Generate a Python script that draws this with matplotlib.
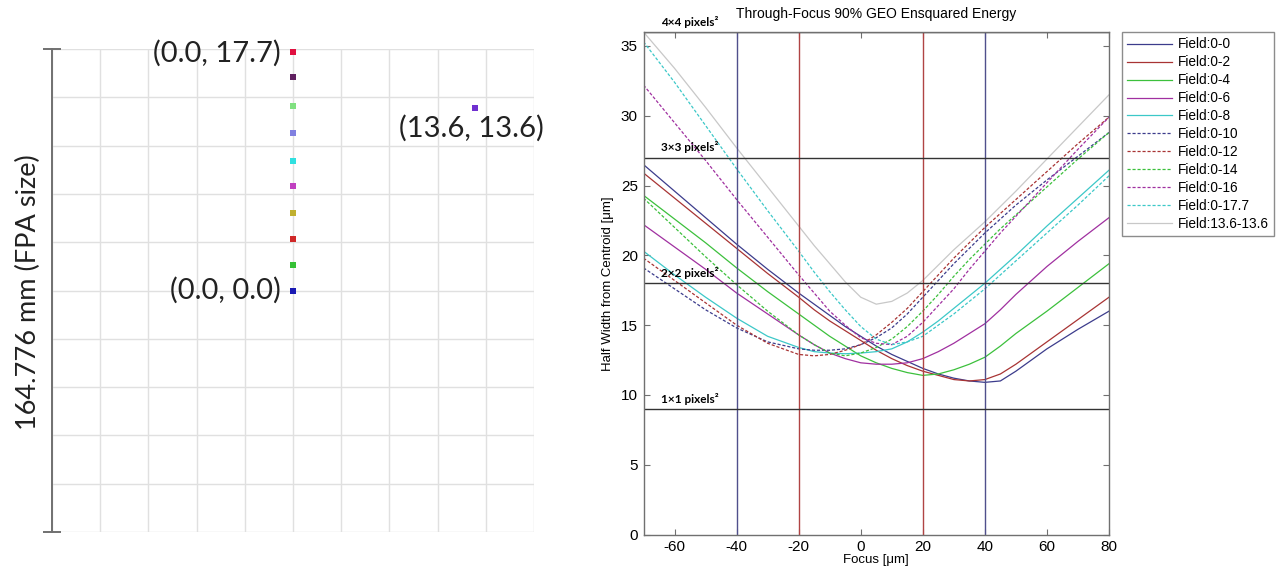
import numpy as np
import matplotlib
matplotlib.use("Agg")
import matplotlib.pyplot as plt

plt.rcParams["axes.unicode_minus"] = False

# ---- left panel: field points on the FPA (mm) ----
fpa_size = 164.776
field_labels = ["0", "2", "4", "6", "8", "10", "12", "14", "16", "17.7"]
field_y_mm = [0.0, 8.7, 17.5, 26.3, 35.5, 44.3, 53.6, 63.0, 72.8, 81.5]
field_colors = ["#1a1ab4", "#35c035", "#d02828", "#c0b030", "#c040c0",
                "#30e0e0", "#8080e0", "#80e080", "#602060", "#e01040"]
offaxis_xy_mm = (62.3, 62.3)
offaxis_color = "#7030d0"

# ---- right panel: through-focus curves ----
focus = [-70, -60, -50, -40, -30, -20, -15, -10, -5, 0, 5, 10, 15, 20, 25,
         30, 35, 40, 45, 50, 60, 70, 80]
f_0_0 = [26.5, 24.6, 22.7, 20.8, 19.0, 17.3, 16.5, 15.7, 14.9, 14.2, 13.5, 12.9,
         12.4, 11.9, 11.5, 11.2, 11.0, 10.9, 11.0, 11.7, 13.3, 14.7, 16.0]
f_0_2 = [25.9, 24.1, 22.3, 20.5, 18.7, 17.0, 16.1, 15.3, 14.6, 13.9, 13.2, 12.6,
         12.1, 11.7, 11.4, 11.1, 11.0, 11.1, 11.5, 12.2, 13.8, 15.4, 17.0]
f_0_4 = [24.3, 22.6, 20.9, 19.1, 17.4, 15.8, 15.0, 14.2, 13.5, 12.8, 12.3, 11.9,
         11.6, 11.4, 11.5, 11.8, 12.2, 12.7, 13.5, 14.4, 16.0, 17.7, 19.4]
f_0_6 = [22.2, 20.6, 19.0, 17.3, 15.8, 14.3, 13.6, 13.0, 12.6, 12.3, 12.2, 12.2,
         12.3, 12.6, 13.1, 13.7, 14.4, 15.1, 16.1, 17.2, 19.2, 21.0, 22.7]
f_0_8 = [20.3, 18.6, 17.0, 15.5, 14.2, 13.4, 13.1, 13.0, 12.95, 13.0, 13.1, 13.3,
         13.8, 14.5, 15.3, 16.2, 17.1, 18.0, 19.0, 20.0, 22.1, 24.1, 26.1]
f_0_10 = [19.1, 17.6, 16.1, 14.8, 13.8, 13.3, 13.2, 13.2, 13.3, 13.6, 14.1, 14.8,
          15.8, 17.0, 18.2, 19.4, 20.5, 21.6, 22.6, 23.6, 25.4, 27.1, 28.8]
f_0_12 = [19.8, 18.2, 16.6, 15.0, 13.7, 12.9, 12.8, 12.9, 13.2, 13.6, 14.3, 15.2,
          16.2, 17.4, 18.6, 19.8, 20.9, 22.0, 23.0, 24.0, 26.0, 28.0, 29.9]
f_0_14 = [24.1, 22.0, 19.9, 17.9, 16.0, 14.3, 13.6, 13.0, 12.8, 13.0, 13.4, 14.0,
          14.9, 16.0, 17.2, 18.5, 19.7, 20.8, 21.9, 22.9, 24.9, 26.9, 28.8]
f_0_16 = [32.2, 29.5, 26.8, 24.0, 21.3, 18.6, 17.3, 16.0, 15.0, 14.1, 13.7, 13.6,
          14.2, 15.2, 16.4, 17.6, 19.0, 20.3, 21.6, 22.8, 25.2, 27.6, 29.9]
f_0_177 = [35.3, 32.4, 29.3, 26.2, 23.2, 20.3, 18.8, 17.4, 16.1, 14.9, 14.0, 13.6,
           13.8, 14.2, 15.0, 15.8, 16.7, 17.6, 18.6, 19.6, 21.6, 23.6, 25.7]
f_136_136 = [36.0, 33.4, 30.6, 27.7, 24.9, 22.1, 20.7, 19.4, 18.1, 17.0, 16.5, 16.7,
             17.3, 18.2, 19.3, 20.4, 21.4, 22.4, 23.5, 24.6, 26.9, 29.2, 31.5]

curve_names = ["Field:0-0", "Field:0-2", "Field:0-4", "Field:0-6", "Field:0-8",
               "Field:0-10", "Field:0-12", "Field:0-14", "Field:0-16",
               "Field:0-17.7", "Field:13.6-13.6"]
curve_colors = ["#3c3c8c", "#a83434", "#3cc03c", "#a030a0", "#3cc8c8",
                "#3c3c8c", "#a83434", "#3cc03c", "#a030a0", "#3cc8c8", "#c8c8c8"]
curve_dashed = [False] * 5 + [True] * 5 + [False]

pixel_levels = [9, 18, 27, 36]
pixel_labels = ["1×1 pixels²", "2×2 pixels²", "3×3 pixels²", "4×4 pixels²"]
focus_marks = [-40, -20, 20, 40]
focus_mark_colors = ["#50508c", "#b04444", "#b04444", "#50508c"]

fig = plt.figure(figsize=(12.79, 5.75), dpi=100)

# ----------------- left panel -----------------
half = fpa_size / 2
axl = fig.add_axes([52 / 1279, 43 / 575, 482 / 1279, 483 / 575])
axl.set_xlim(-half, half)
axl.set_ylim(-half, half)
grid_pos = np.linspace(-half, half, 11)
axl.set_xticks([])
axl.set_xticks(grid_pos, minor=True)
axl.set_yticks([-half, half])
axl.set_yticks(grid_pos, minor=True)
axl.tick_params(axis="x", which="both", length=0, labelbottom=False)
axl.tick_params(axis="y", which="minor", length=0)
axl.tick_params(axis="y", which="major", direction="inout", length=13, width=1.4,
                color="#707070", labelleft=False)
axl.grid(which="both", color="#e0e0e0", lw=1.0)
for s in ["top", "right", "bottom"]:
    axl.spines[s].set_visible(False)
axl.spines["left"].set_color("#707070")
axl.spines["left"].set_linewidth(1.4)
axl.set_axisbelow(True)

for yv, c in zip(field_y_mm, field_colors):
    axl.scatter([0], [yv], marker="s", s=18, color=c, zorder=3, lw=0)
axl.scatter([offaxis_xy_mm[0]], [offaxis_xy_mm[1]], marker="s", s=18,
            color=offaxis_color, zorder=3, lw=0)

lab_font = dict(family=["Lato", "DejaVu Sans"], fontsize=21, color="#222222")
axl.annotate("(0.0, 17.7)", (0, field_y_mm[-1]), xytext=(-9, -1),
             textcoords="offset points", ha="right", va="center", **lab_font)
axl.annotate("(0.0, 0.0)", (0, field_y_mm[0]), xytext=(-9, 0),
             textcoords="offset points", ha="right", va="center", **lab_font)
axl.annotate("(13.6, 13.6)", offaxis_xy_mm, xytext=(-3, -5),
             textcoords="offset points", ha="center", va="top", **lab_font)
fig.text(28 / 1279, 1 - 292 / 575, "164.776 mm (FPA size)", rotation=90,
         ha="center", va="center", family=["Lato", "DejaVu Sans"],
         fontsize=19.5, color="#222222")

# ----------------- right panel -----------------
axr = fig.add_axes([643.5 / 1279, 40.5 / 575, 465.5 / 1279, 502.5 / 575])
series = [f_0_0, f_0_2, f_0_4, f_0_6, f_0_8, f_0_10, f_0_12, f_0_14, f_0_16,
          f_0_177, f_136_136]
handles = []
for vals, name, c, dashed in zip(series, curve_names, curve_colors, curve_dashed):
    ln, = axr.plot(focus, vals, color=c, lw=0.9, label=name,
                   ls=(0, (2.5, 1.5)) if dashed else "-")
    handles.append(ln)

for xv, c in zip(focus_marks, focus_mark_colors):
    axr.axvline(xv, color=c, lw=1.0)
for lv, lt in zip(pixel_levels, pixel_labels):
    axr.axhline(lv, color="#333333", lw=1.0)
    axr.text(-64.5, lv + 0.3, lt, ha="left", va="bottom", fontsize=8.5,
             fontweight="bold", family=["Lato", "DejaVu Sans"], clip_on=False)

axr.set_xlim(-70, 80)
axr.set_ylim(0, 36)
axr.set_xticks(np.arange(-60, 81, 20))
axr.set_yticks(np.arange(0, 36, 5))
axr.tick_params(direction="in", top=True, right=True, length=4, width=0.8,
                color="#707070", labelsize=11, pad=4)
for t in axr.get_xticklabels() + axr.get_yticklabels():
    t.set_family("Liberation Sans")
for s in axr.spines.values():
    s.set_color("#707070")
    s.set_linewidth(1.0)
axr.set_xlabel("Focus [μm]", fontsize=9.5, family="Liberation Sans", labelpad=0)
axr.set_ylabel("Half Width from Centroid [μm]", fontsize=9.5,
               family="Liberation Sans", labelpad=5)
axr.set_title("Through-Focus 90% GEO Ensquared Energy", fontsize=10,
              family="Liberation Sans", pad=10)

leg = fig.legend(handles=handles, loc="upper left",
                 bbox_to_anchor=(1122 / 1279, 1 - 32 / 575),
                 prop={"family": "Liberation Sans", "size": 9.8},
                 frameon=True, fancybox=False, edgecolor="#707070",
                 handlelength=3.3, handletextpad=0.4, labelspacing=0.29,
                 borderpad=0.4, borderaxespad=0)
leg.get_frame().set_linewidth(1.0)

fig.savefig("out.png", dpi=100)
